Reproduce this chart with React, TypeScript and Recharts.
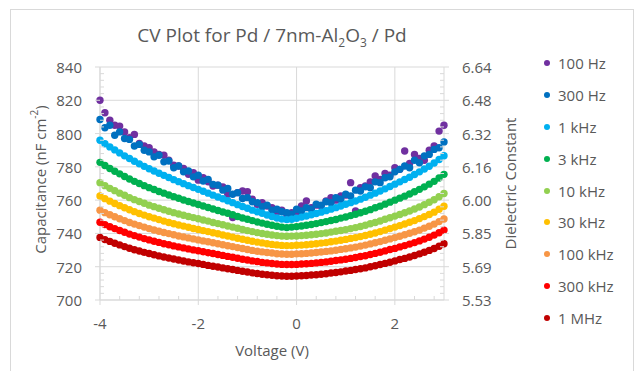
import { CartesianGrid, Scatter, ScatterChart, XAxis, YAxis } from "recharts";

// bias voltage (V), one reading every 0.1 V
const voltage = [
  -4.0, -3.9, -3.8, -3.7, -3.6, -3.5, -3.4, -3.3, -3.2, -3.1, -3.0, -2.9, -2.8, -2.7, -2.6, -2.5, -2.4, -2.3,
  -2.2, -2.1, -2.0, -1.9, -1.8, -1.7, -1.6, -1.5, -1.4, -1.3, -1.2, -1.1, -1.0, -0.9, -0.8, -0.7, -0.6, -0.5,
  -0.4, -0.3, -0.2, -0.1, 0.0, 0.1, 0.2, 0.3, 0.4, 0.5, 0.6, 0.7, 0.8, 0.9, 1.0, 1.1, 1.2, 1.3, 1.4, 1.5, 1.6,
  1.7, 1.8, 1.9, 2.0, 2.1, 2.2, 2.3, 2.4, 2.5, 2.6, 2.7, 2.8, 2.9, 3.0,
];

// capacitance (nF cm^-2) per frequency
const cap100Hz = [
  820, 812.5, 808, 805, 804.5, 801, 797.5, 799.5, 794, 792.5, 791.5, 789, 787.5, 787, 784, 781, 780.5, 779, 775.5,
  776.5, 772, 773.5, 771, 768.5, 769, 768, 763.5, 749.5, 764.5, 765.5, 765, 760.5, 757.5, 758.5, 756.5, 755.5, 753,
  754, 751.5, 752.5, 751, 756.5, 759.5, 755.5, 757, 756.5, 759.5, 761.5, 760, 762.5, 763, 770.5, 753.5, 767.5,
  768.5, 771, 774.5, 772.5, 776, 775, 779.5, 778.5, 789.5, 782, 787.5, 785, 784, 790, 792.5, 801.5, 805,
];
const cap300Hz = [
  808.5, 803.5, 805, 799, 801, 797, 796.5, 792.5, 793.5, 790, 789, 786, 787, 783, 783.5, 779.5, 780.5, 777, 777.5,
  774, 775, 771.5, 772.5, 769.5, 769, 766, 767, 763.5, 764.5, 761, 761.5, 759, 758.5, 756, 757, 754, 754.5, 753,
  752.5, 751.5, 754.5, 753.5, 755.5, 754.5, 757.5, 757, 759, 758.5, 761.5, 760.5, 763.5, 762.5, 766, 765.5, 768,
  767.5, 771, 770.5, 773.5, 774, 777, 778.5, 780.5, 779.5, 784, 782.5, 786.5, 787.5, 790.5, 791.5, 795,
];
const cap1kHz = [
  796.0, 793.9, 792.0, 790.2, 788.4, 786.6, 785.0, 783.4, 781.8, 780.3, 778.9, 777.5, 776.2, 774.9, 773.6, 772.3,
  771.1, 769.9, 768.7, 767.6, 766.5, 765.3, 764.2, 763.0, 761.9, 760.8, 759.6, 758.5, 757.3, 756.2, 755.1, 754.0,
  753.0, 752.1, 751.1, 750.2, 749.3, 748.6, 748.3, 748.5, 749.1, 749.8, 750.5, 751.2, 752.0, 752.8, 753.7, 754.6,
  755.5, 756.5, 757.5, 758.5, 759.5, 760.6, 761.7, 763.0, 764.2, 765.5, 766.8, 768.2, 769.6, 771.0, 772.4, 773.8,
  775.4, 777.0, 778.7, 780.4, 782.3, 784.4, 786.7,
];
const cap3kHz = [
  782.7, 780.8, 779.0, 777.4, 775.8, 774.2, 772.7, 771.3, 770.0, 768.7, 767.5, 766.4, 765.2, 764.2, 763.1, 762.1,
  761.1, 760.1, 759.2, 758.3, 757.4, 756.5, 755.6, 754.7, 753.8, 752.9, 752.1, 751.2, 750.2, 749.3, 748.5, 747.7,
  746.9, 746.2, 745.5, 744.9, 744.3, 743.8, 743.5, 743.8, 744.1, 744.5, 744.9, 745.4, 745.9, 746.5, 747.1, 747.8,
  748.4, 749.2, 749.9, 750.7, 751.5, 752.4, 753.3, 754.3, 755.4, 756.4, 757.6, 758.8, 760.0, 761.2, 762.4, 763.7,
  765.0, 766.5, 768.0, 769.6, 771.3, 773.3, 775.5,
];
const cap10kHz = [
  770.5, 768.7, 767.1, 765.7, 764.2, 762.9, 761.5, 760.3, 759.2, 758.1, 757.0, 756.1, 755.1, 754.2, 753.3, 752.5,
  751.7, 750.9, 750.2, 749.5, 748.8, 748.1, 747.4, 746.6, 745.9, 745.2, 744.5, 743.8, 743.1, 742.4, 741.7, 741.1,
  740.5, 740.0, 739.5, 739.1, 738.7, 738.4, 738.3, 738.4, 738.5, 738.7, 738.9, 739.2, 739.5, 739.9, 740.3, 740.8,
  741.3, 741.8, 742.3, 742.9, 743.5, 744.2, 744.9, 745.8, 746.6, 747.5, 748.5, 749.4, 750.4, 751.4, 752.4, 753.5,
  754.7, 755.9, 757.3, 758.7, 760.2, 762.0, 764.0,
];
const cap30kHz = [
  762.5, 760.9, 759.4, 758.0, 756.7, 755.4, 754.2, 753.1, 752.0, 751.0, 750.0, 749.2, 748.3, 747.4, 746.6, 745.8,
  745.1, 744.4, 743.7, 743.0, 742.4, 741.7, 741.1, 740.4, 739.8, 739.1, 738.5, 737.8, 737.1, 736.5, 735.9, 735.3,
  734.8, 734.3, 733.8, 733.4, 733.1, 732.8, 732.7, 732.7, 732.9, 733.0, 733.2, 733.5, 733.8, 734.2, 734.5, 735.0,
  735.4, 735.9, 736.4, 737.0, 737.5, 738.1, 738.8, 739.5, 740.3, 741.1, 742.0, 742.9, 743.8, 744.7, 745.7, 746.7,
  747.7, 748.9, 750.1, 751.4, 752.8, 754.5, 756.3,
];
const cap100kHz = [
  754.0, 752.5, 751.2, 750.0, 748.8, 747.7, 746.6, 745.6, 744.7, 743.8, 742.9, 742.1, 741.3, 740.6, 739.9, 739.2,
  738.5, 737.9, 737.3, 736.7, 736.1, 735.5, 735.0, 734.4, 733.8, 733.2, 732.6, 732.1, 731.5, 730.9, 730.3, 729.8,
  729.3, 728.9, 728.5, 728.2, 727.8, 727.6, 727.5, 727.5, 727.7, 727.8, 728.0, 728.2, 728.5, 728.8, 729.2, 729.5,
  729.9, 730.4, 730.8, 731.3, 731.8, 732.4, 733.0, 733.7, 734.4, 735.1, 735.9, 736.7, 737.5, 738.3, 739.2, 740.1,
  741.0, 742.0, 743.2, 744.3, 745.6, 747.1, 748.7,
];
const cap300kHz = [
  746.7, 745.3, 744.0, 742.9, 741.8, 740.7, 739.6, 738.7, 737.8, 736.9, 736.1, 735.3, 734.6, 733.8, 733.2, 732.5,
  731.9, 731.3, 730.7, 730.1, 729.6, 729.0, 728.4, 727.9, 727.3, 726.8, 726.2, 725.7, 725.1, 724.5, 724.0, 723.5,
  723.1, 722.6, 722.3, 721.9, 721.6, 721.4, 721.3, 721.3, 721.4, 721.6, 721.8, 722.0, 722.3, 722.6, 722.9, 723.3,
  723.7, 724.1, 724.5, 725.0, 725.5, 726.1, 726.6, 727.3, 728.0, 728.7, 729.5, 730.3, 731.0, 731.9, 732.7, 733.6,
  734.5, 735.5, 736.6, 737.7, 739.0, 740.4, 742.0,
];
const cap1MHz = [
  737.6, 736.3, 735.2, 734.1, 733.1, 732.1, 731.1, 730.2, 729.4, 728.6, 727.9, 727.2, 726.5, 725.8, 725.2, 724.6,
  724.0, 723.4, 722.9, 722.4, 721.9, 721.4, 720.8, 720.3, 719.8, 719.3, 718.8, 718.3, 717.8, 717.3, 716.8, 716.3,
  715.9, 715.5, 715.2, 714.9, 714.6, 714.4, 714.3, 714.3, 714.4, 714.6, 714.7, 715.0, 715.2, 715.5, 715.8, 716.2,
  716.5, 716.9, 717.4, 717.8, 718.3, 718.8, 719.3, 720.0, 720.6, 721.3, 722.0, 722.7, 723.5, 724.3, 725.0, 725.8,
  726.7, 727.7, 728.7, 729.8, 730.9, 732.3, 733.8,
];

const seriesNames = ["100 Hz", "300 Hz", "1 kHz", "3 kHz", "10 kHz", "30 kHz", "100 kHz", "300 kHz", "1 MHz"];
const seriesColors = ["#7030a0", "#0070c0", "#00b0f0", "#00b050", "#92d050", "#ffc000", "#f79646", "#ff0000", "#c00000"];
const seriesValues = [cap100Hz, cap300Hz, cap1kHz, cap3kHz, cap10kHz, cap30kHz, cap100kHz, cap300kHz, cap1MHz];

const voltageTicks = [-4, -2, 0, 2];
const voltageMinorTicks = [-3.6, -3.2, -2.8, -2.4, -1.6, -1.2, -0.8, -0.4, 0.4, 0.8, 1.2, 1.6, 2.4, 2.8];
const capTicks = [700, 720, 740, 760, 780, 800, 820, 840];
const capMinorTicks = [
  704, 708, 712, 716, 724, 728, 732, 736, 744, 748, 752, 756, 764, 768, 772, 776, 784, 788, 792, 796, 804, 808, 812,
  816, 824, 828, 832, 836,
];

// k = t / eps0 with t = 7 nm, per nF cm^-2
const DIELECTRIC_PER_NF = 0.007906;

const TEXT = "#595959";
const LINE = "#d9d9d9";
const FONT = "'Open Sans', 'Liberation Sans', sans-serif";
const TICK_OUT = 5;
const TICK_IN = 4;
const TICK_GAP = 13;

const truncate2 = (v: number) => (Math.floor(v * 100 + 1e-6) / 100).toFixed(2);
const isMajor = (v: number, majors: number[]) => majors.some((m) => Math.abs(m - v) < 1e-6);

const chartData = seriesValues.map((vals) => vals.map((c, i) => ({ v: voltage[i], c })));
const dielectricTicks = capTicks.map((c) => c * DIELECTRIC_PER_NF);
const dielectricMinorTicks = capMinorTicks.map((c) => c * DIELECTRIC_PER_NF);
// same 1 MHz readings on the dielectric scale, only so the right axis has data
const dielectricData = cap1MHz.map((c, i) => ({ v: voltage[i], k: c * DIELECTRIC_PER_NF }));

function LeftTick(props: any) {
  const { x, y, payload } = props;
  const ax = x + TICK_OUT + TICK_GAP;
  if (!isMajor(payload.value, capTicks)) {
    return <line x1={ax} x2={ax + TICK_IN} y1={y} y2={y} stroke={LINE} />;
  }
  return (
    <g>
      <line x1={ax - TICK_OUT} x2={ax} y1={y} y2={y} stroke={LINE} />
      <text x={x} y={y} textAnchor="end" dominantBaseline="central" fill={TEXT} fontSize={15} fontFamily={FONT}>
        {payload.value}
      </text>
    </g>
  );
}

function RightTick(props: any) {
  const { x, y, payload } = props;
  const ax = x - TICK_OUT - TICK_GAP;
  if (!isMajor(payload.value, dielectricTicks)) {
    return <line x1={ax - TICK_IN} x2={ax} y1={y} y2={y} stroke={LINE} />;
  }
  return (
    <g>
      <line x1={ax} x2={ax + TICK_OUT} y1={y} y2={y} stroke={LINE} />
      <text x={x} y={y} textAnchor="start" dominantBaseline="central" fill={TEXT} fontSize={15} fontFamily={FONT}>
        {truncate2(payload.value)}
      </text>
    </g>
  );
}

function BottomTick(props: any) {
  const { x, y, payload } = props;
  const ay = y - TICK_OUT - TICK_GAP;
  if (!isMajor(payload.value, voltageTicks)) {
    return <line x1={x} x2={x} y1={ay - TICK_IN} y2={ay} stroke={LINE} />;
  }
  return (
    <g>
      <line x1={x} x2={x} y1={ay} y2={ay + TICK_OUT} stroke={LINE} />
      <text x={x} y={y} dy="0.71em" textAnchor="middle" fill={TEXT} fontSize={15} fontFamily={FONT}>
        {payload.value}
      </text>
    </g>
  );
}

function CapTitle({ viewBox }: any) {
  const cx = viewBox.x + 40;
  const cy = viewBox.y + viewBox.height / 2 - 4;
  return (
    <text x={cx} y={cy} transform={`rotate(-90 ${cx} ${cy})`} textAnchor="middle" dominantBaseline="central"
      fill={TEXT} fontSize={15} fontFamily={FONT}>
      Capacitance (nF cm<tspan fontSize={10} dy={-6}>-2</tspan><tspan dy={6}>)</tspan>
    </text>
  );
}

function DielectricTitle({ viewBox }: any) {
  const cx = viewBox.x + 66;
  const cy = viewBox.y + viewBox.height / 2;
  return (
    <text x={cx} y={cy} transform={`rotate(-90 ${cx} ${cy})`} textAnchor="middle" dominantBaseline="central"
      fill={TEXT} fontSize={15} fontFamily={FONT}>
      Dielectric Constant
    </text>
  );
}

function VoltageTitle({ viewBox }: any) {
  return (
    <text x={viewBox.x + viewBox.width / 2} y={viewBox.y + 50} textAnchor="middle" dominantBaseline="central"
      fill={TEXT} fontSize={15} fontFamily={FONT}>
      Voltage (V)
    </text>
  );
}

const dot = (color: string) => (p: any) => <circle cx={p.cx} cy={p.cy} r={3.7} fill={color} />;
const noDot = () => <g />;

export default function App() {
  return (
    <div style={{ position: "relative", width: 635, height: 371, background: "#fff", fontFamily: FONT, overflow: "hidden" }}>
      <style>{"body{margin:0}"}</style>
      <div style={{ position: "absolute", left: 10, top: 9, width: 622, height: 380, border: `1px solid ${LINE}` }} />
      <div style={{ position: "absolute", left: 0, top: 22, width: 544, textAlign: "center", fontSize: 19, lineHeight: "26px", color: TEXT }}>
        CV Plot for Pd / 7nm-Al<sub style={{ fontSize: 12, lineHeight: 0 }}>2</sub>O<sub style={{ fontSize: 12, lineHeight: 0 }}>3</sub> / Pd
      </div>
      <div style={{ position: "absolute", left: 0, top: 0 }}>
        <ScatterChart width={635} height={371} margin={{ top: 67, right: 111, bottom: 31, left: 0 }}>
          <CartesianGrid yAxisId="left" stroke={LINE} horizontalValues={capTicks} verticalValues={voltageTicks} />
          <XAxis
            type="number"
            dataKey="v"
            domain={[-4, 3]}
            ticks={[...voltageTicks, ...voltageMinorTicks]}
            interval={0}
            height={40}
            tickSize={TICK_OUT}
            tickMargin={TICK_GAP}
            tickLine={false}
            axisLine={{ stroke: LINE }}
            tick={<BottomTick />}
            label={<VoltageTitle />}
          />
          <YAxis
            yAxisId="left"
            type="number"
            dataKey="c"
            domain={[700, 840]}
            ticks={[...capTicks, ...capMinorTicks]}
            interval={0}
            width={100}
            tickSize={TICK_OUT}
            tickMargin={TICK_GAP}
            tickLine={false}
            axisLine={{ stroke: LINE }}
            tick={<LeftTick />}
            label={<CapTitle />}
          />
          <YAxis
            yAxisId="right"
            orientation="right"
            type="number"
            dataKey="k"
            domain={[dielectricTicks[0], dielectricTicks[dielectricTicks.length - 1]]}
            allowDataOverflow
            ticks={[...dielectricTicks, ...dielectricMinorTicks]}
            interval={0}
            width={80}
            tickSize={TICK_OUT}
            tickMargin={TICK_GAP}
            tickLine={false}
            axisLine={{ stroke: LINE }}
            tick={<RightTick />}
            label={<DielectricTitle />}
          />
          <Scatter
            name="dielectric"
            data={dielectricData}
            yAxisId="right"
            shape={noDot}
            legendType="none"
            isAnimationActive={false}
          />
          {chartData.map((d, i) => (
            <Scatter
              key={seriesNames[i]}
              name={seriesNames[i]}
              data={d}
              yAxisId="left"
              fill={seriesColors[i]}
              shape={dot(seriesColors[i])}
              isAnimationActive={false}
            />
          ))}
        </ScatterChart>
      </div>
      <div style={{ position: "absolute", left: 544, top: 47, color: TEXT, fontSize: 15 }}>
        {seriesNames.map((name, i) => (
          <div key={name} style={{ height: 31.9, display: "flex", alignItems: "center" }}>
            <span style={{ width: 6, height: 6, borderRadius: 3, background: seriesColors[i], display: "inline-block" }} />
            <span style={{ marginLeft: 8 }}>{name}</span>
          </div>
        ))}
      </div>
    </div>
  );
}
